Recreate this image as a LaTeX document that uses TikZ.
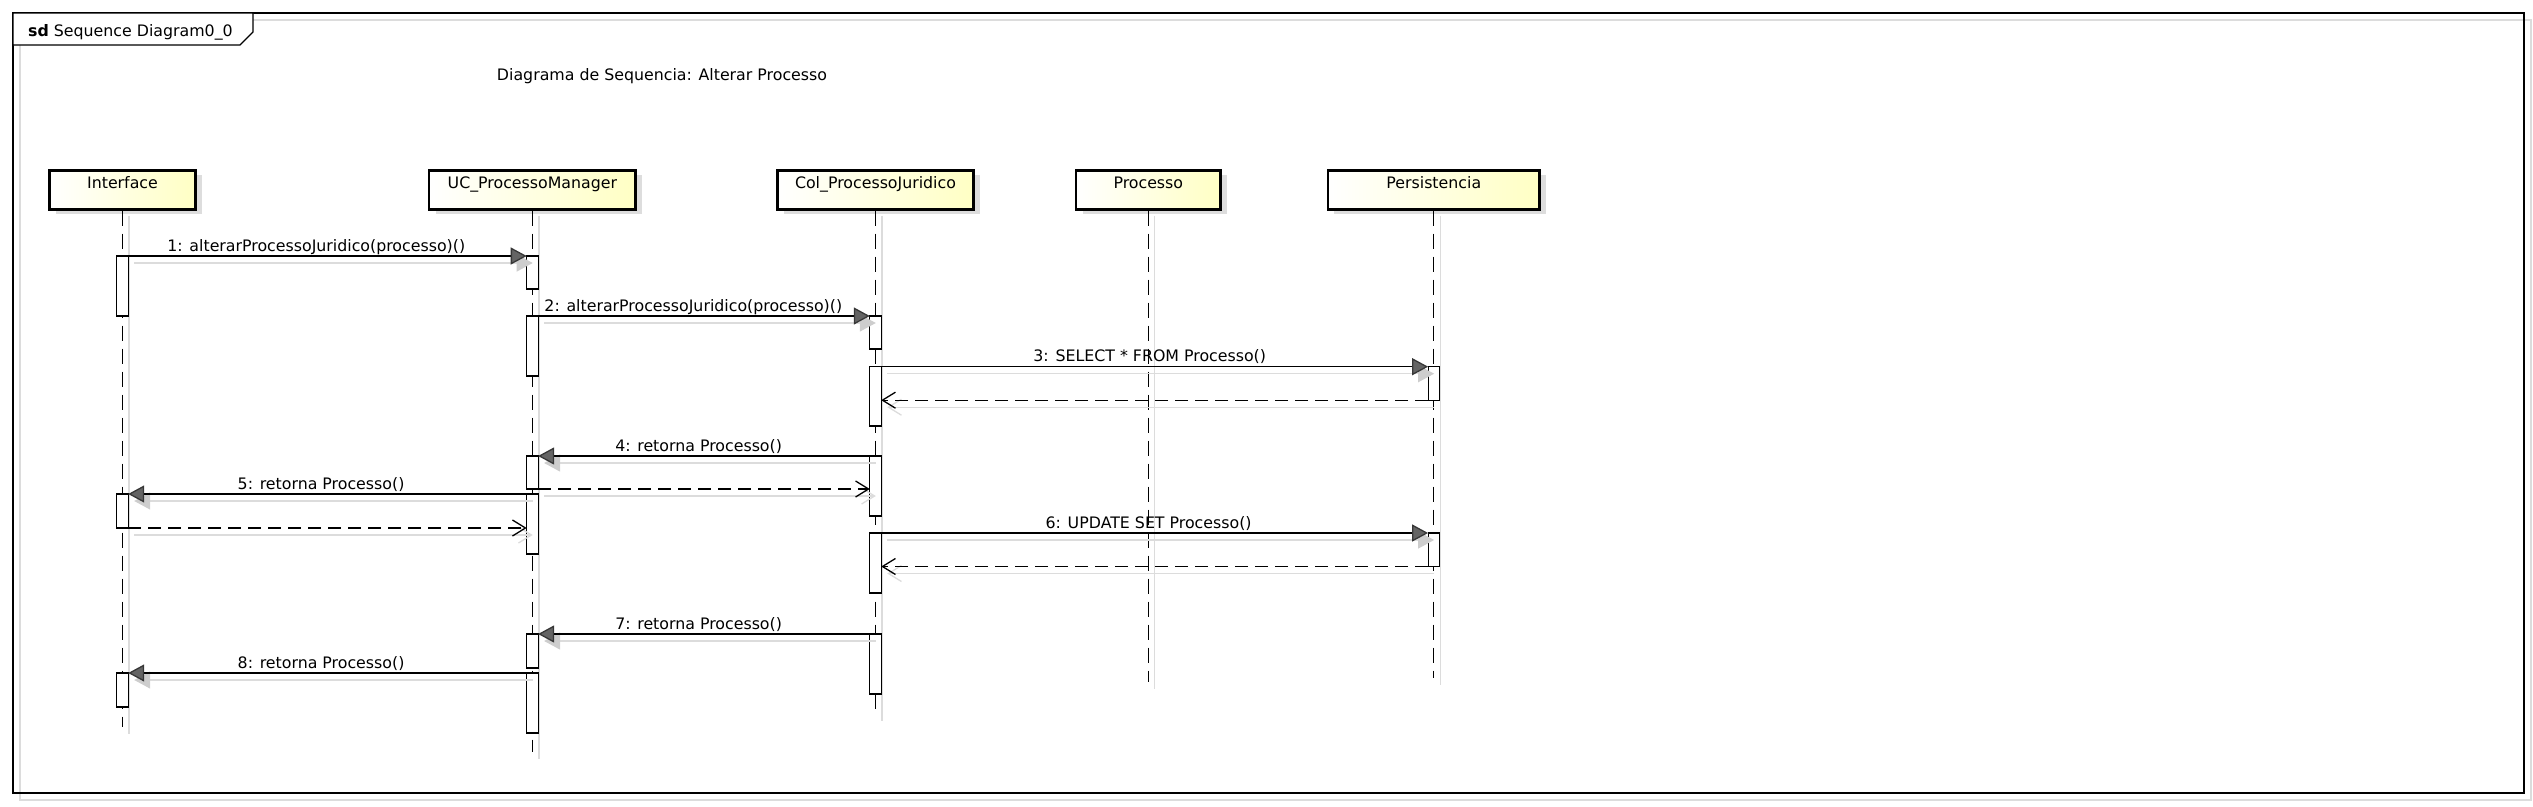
\documentclass[tikz,border=0pt]{standalone}
\usepackage{fontspec}
\setmainfont{DejaVu Sans}
\usetikzlibrary{arrows.meta,shadows}
\definecolor{boxyellow}{RGB}{255,255,196}
\definecolor{shadowgray}{RGB}{221,221,221}
\definecolor{lineshadow}{RGB}{220,220,220}
\definecolor{tipfill}{RGB}{100,100,100}
\definecolor{tipdraw}{RGB}{55,55,55}
\definecolor{tipshadow}{RGB}{205,205,205}
\begin{document}
\begin{tikzpicture}[x=1pt,y=-1pt,font=\fontsize{15.8}{19}\selectfont,
  lifebox/.style={draw=black,line width=2.8pt,left color=white,right color=boxyellow,
    minimum height=38.7pt,inner xsep=0pt,inner ysep=0pt,text height=12pt,text depth=15.5pt,
    drop shadow={shadow xshift=6.5pt,shadow yshift=-5pt,fill=shadowgray,opacity=1}},
  act/.style={draw=black,fill=white,line width=1.2pt,minimum width=11.4pt,inner sep=0pt,outer sep=0pt,anchor=north},
  lifeline/.style={line width=1.3pt,dash pattern=on 15pt off 8pt},
  lifeshadow/.style={line width=1.3pt,draw=lineshadow},
  msg/.style={line width=1.3pt,-{Triangle[length=16pt,width=17pt,color=tipdraw,fill=tipfill]}},
  msgshadow/.style={line width=1.3pt,draw=lineshadow,-{Triangle[length=16pt,width=17pt,color=tipshadow,fill=tipshadow]},
    transform canvas={shift={(6pt,-7pt)}}},
  ret/.style={line width=1.3pt,dash pattern=on 13pt off 7pt,-{Straight Barb[length=13pt,width=16pt]}},
  retshadow/.style={line width=1.3pt,draw=lineshadow,-{Straight Barb[length=13pt,width=16pt]},
    transform canvas={shift={(6pt,-7pt)}}},
  lbl/.style={anchor=base,inner sep=0pt,yshift=5pt}]
\useasboundingbox (0,0) rectangle (2533,806);
% frame
\draw[line width=1.3pt,draw=lineshadow] (20,20) rectangle (2531,800);
\draw[line width=1.3pt] (13,13) rectangle (2524,793);
\draw[line width=1.3pt,fill=white] (13,13) -- (253,13) -- (253,32) -- (240,45) -- (13,45) -- cycle;
\node[anchor=base west,inner sep=0pt] (hdr) at (28,36) {\textbf{sd} Sequence Diagram0\_0};
\node[anchor=base,inner sep=0pt] (title) at (662,80) {Diagrama de Sequencia: Alterar Processo};
% lifeline boxes
\node[lifebox,minimum width=145.6pt] (ifb) at (122.5,189.75) {Interface};
\node[lifebox,minimum width=206.7pt] (ucb) at (532.4,189.75) {UC\_ProcessoManager};
\node[lifebox,minimum width=196.2pt] (colb) at (875.5,189.75) {Col\_ProcessoJuridico};
\node[lifebox,minimum width=144.6pt] (prob) at (1148.3,189.75) {Processo};
\node[lifebox,minimum width=211.7pt] (perb) at (1433.8,189.75) {Persistencia};
% lifeline ends
\coordinate (ifend) at (ifb.south |- 0,727);
\coordinate (ucend) at (ucb.south |- 0,752);
\coordinate (colend) at (colb.south |- 0,714);
\coordinate (proend) at (prob.south |- 0,682);
\coordinate (perend) at (perb.south |- 0,678);
\foreach \b/\e in {ifb/ifend,ucb/ucend,colb/colend,prob/proend,perb/perend}{
  \draw[lifeshadow] ([xshift=6.5pt,yshift=-5pt]\b.south) -- ([xshift=6.5pt,yshift=-7pt]\e);
  \draw[lifeline] (\b.south) -- (\e);
}
% activations
\node[act,minimum height=60pt] (i1) at (ifb.south |- 0,256) {};
\node[act,minimum height=34pt] (i2) at (ifb.south |- 0,494) {};
\node[act,minimum height=34pt] (i3) at (ifb.south |- 0,673) {};
\node[act,minimum height=33pt] (u1) at (ucb.south |- 0,256) {};
\node[act,minimum height=60pt] (u2) at (ucb.south |- 0,316) {};
\node[act,minimum height=33pt] (u3) at (ucb.south |- 0,456) {};
\node[act,minimum height=60pt] (u4) at (ucb.south |- 0,494) {};
\node[act,minimum height=34pt] (u5) at (ucb.south |- 0,634) {};
\node[act,minimum height=60pt] (u6) at (ucb.south |- 0,673) {};
\node[act,minimum height=33pt] (c1) at (colb.south |- 0,316) {};
\node[act,minimum height=59.3pt] (c2) at (colb.south |- 0,366.7) {};
\node[act,minimum height=60pt] (c3) at (colb.south |- 0,456) {};
\node[act,minimum height=60pt] (c4) at (colb.south |- 0,533) {};
\node[act,minimum height=60pt] (c5) at (colb.south |- 0,634) {};
\node[act,minimum height=33.5pt] (p1) at (perb.south |- 0,366.7) {};
\node[act,minimum height=33.5pt] (p2) at (perb.south |- 0,533) {};
% message shadows
\draw[msgshadow] (i1.north east) -- (u1.north west);
\draw[msgshadow] (u2.north east) -- (c1.north west);
\draw[msgshadow] (c2.north east) -- (p1.north west);
\draw[retshadow] (p1.south west) -- (p1.south west -| c2.east);
\draw[msgshadow] (c3.north west) -- (u3.north east);
\draw[retshadow] (u3.south east) -- (u3.south east -| c3.west);
\draw[msgshadow] (u4.north west) -- (i2.north east);
\draw[retshadow] (i2.south east) -- (i2.south east -| u4.west);
\draw[msgshadow] (c4.north east) -- (p2.north west);
\draw[retshadow] (p2.south west) -- (p2.south west -| c4.east);
\draw[msgshadow] (c5.north west) -- (u5.north east);
\draw[msgshadow] (u6.north west) -- (i3.north east);
% messages
\draw[msg] (i1.north east) -- node[lbl,pos=.472] (l1) {1: alterarProcessoJuridico(processo)()} (u1.north west);
\draw[msg] (u2.north east) -- node[lbl,pos=.468] (l2) {2: alterarProcessoJuridico(processo)()} (c1.north west);
\draw[msg] (c2.north east) -- node[lbl,pos=.491] (l3) {3: SELECT * FROM Processo()} (p1.north west);
\draw[ret] (p1.south west) -- (p1.south west -| c2.east);
\draw[msg] (c3.north west) -- node[lbl,pos=.516] (l4) {4: retorna Processo()} (u3.north east);
\draw[ret] (u3.south east) -- (u3.south east -| c3.west);
\draw[msg] (u4.north west) -- node[lbl,pos=.516] (l5) {5: retorna Processo()} (i2.north east);
\draw[ret] (i2.south east) -- (i2.south east -| u4.west);
\draw[msg] (c4.north east) -- node[lbl,pos=.489] (l6) {6: UPDATE SET Processo()} (p2.north west);
\draw[ret] (p2.south west) -- (p2.south west -| c4.east);
\draw[msg] (c5.north west) -- node[lbl,pos=.516] (l7) {7: retorna Processo()} (u5.north east);
\draw[msg] (u6.north west) -- node[lbl,pos=.516] (l8) {8: retorna Processo()} (i3.north east);
\end{tikzpicture}
\end{document}
